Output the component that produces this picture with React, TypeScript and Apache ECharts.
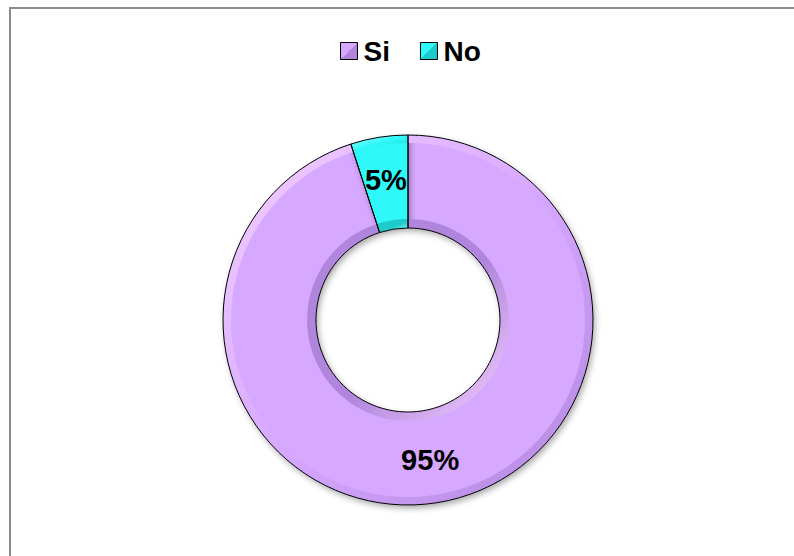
import React, { useEffect, useRef } from "react";
import * as echarts from "echarts";

const categories = ["Si", "No"];
const values = [95, 5];
const baseColors = ["#D7A8FF", "#2EF8F8"];
const lightColors = ["#F4D0FF", "#A0FFFF"];
const darkColors = ["#B086DC", "#1FCACA"];

export default function App() {
  const ref = useRef<HTMLDivElement>(null);
  useEffect(() => {
    if (!ref.current) return;
    const chart = echarts.init(ref.current, null, { renderer: "svg" });
    const data = categories.map((name, i) => ({ name, value: values[i] }));
    const center = [408, 320];
    const font = "Liberation Sans, Arial, sans-serif";
    chart.setOption({
      animation: false,
      backgroundColor: "#ffffff",
      color: baseColors,
      legend: {
        data: categories.map((name, i) => ({
          name,
          itemStyle: {
            color: new echarts.graphic.LinearGradient(0, 0, 1, 1, [
              { offset: 0, color: baseColors[i] },
              { offset: 0.5, color: baseColors[i] },
              { offset: 0.5, color: darkColors[i] },
              { offset: 1, color: darkColors[i] },
            ]),
          },
        })),
        top: 32,
        left: 335,
        icon: "rect",
        itemWidth: 17,
        itemHeight: 17,
        itemGap: 30,
        selectedMode: false,
        itemStyle: { borderColor: "#000", borderWidth: 1 },
        textStyle: {
          fontFamily: font,
          fontWeight: "bold",
          fontSize: 28,
          color: "#000",
          padding: [0, 0, 0, 1],
        },
      },
      graphic: [
        {
          type: "rect",
          shape: { x: 10, y: 8, width: 820, height: 600 },
          style: { fill: "none", stroke: "#8c8c8c", lineWidth: 2 },
          silent: true,
        },
      ],
      series: [
        {
          type: "pie",
          center,
          radius: [92, 185],
          startAngle: 90,
          clockwise: true,
          silent: true,
          label: { show: false },
          labelLine: { show: false },
          itemStyle: {
            shadowColor: "rgba(0,0,0,0.35)",
            shadowBlur: 6,
            shadowOffsetX: 2,
            shadowOffsetY: 3,
          },
          data: data.map((d, i) => ({ ...d, itemStyle: { color: baseColors[i] } })),
        },
        {
          type: "pie",
          center,
          radius: [177, 185],
          startAngle: 90,
          silent: true,
          label: { show: false },
          labelLine: { show: false },
          data: data.map((d, i) => ({
            ...d,
            itemStyle: {
              color: new echarts.graphic.LinearGradient(0, 0, 1, 1, [
                { offset: 0, color: lightColors[i] },
                { offset: 0.5, color: baseColors[i] },
                { offset: 1, color: darkColors[i] },
              ]),
            },
          })),
        },
        {
          type: "pie",
          center,
          radius: [92, 101],
          startAngle: 90,
          silent: true,
          label: { show: false },
          labelLine: { show: false },
          data: data.map((d, i) => ({
            ...d,
            itemStyle: {
              color: new echarts.graphic.LinearGradient(0, 0, 1, 1, [
                { offset: 0, color: darkColors[i] },
                { offset: 0.55, color: darkColors[i] },
                { offset: 1, color: lightColors[i] },
              ]),
            },
          })),
        },
        {
          type: "pie",
          center,
          radius: [92, 185],
          startAngle: 90,
          silent: true,
          labelLine: { show: false },
          label: {
            show: true,
            position: "inside",
            formatter: "{d}%",
            fontFamily: font,
            fontWeight: "bold",
            fontSize: 29,
            color: "#000",
          },
          itemStyle: { color: "rgba(0,0,0,0)", borderColor: "#000", borderWidth: 1 },
          data,
        },
      ],
    });
    return () => chart.dispose();
  }, []);
  return (
    <div
      ref={ref}
      style={{ position: "fixed", left: 0, top: 0, width: 794, height: 556 }}
    />
  );
}
